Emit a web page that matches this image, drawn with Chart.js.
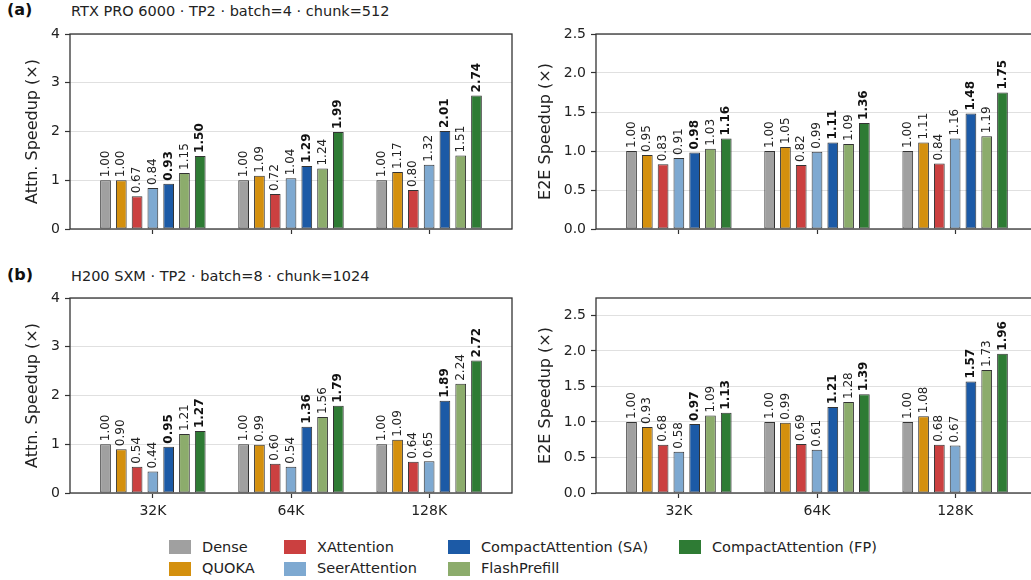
<!DOCTYPE html>
<html>
<head>
<meta charset="utf-8">
<script src="https://cdn.jsdelivr.net/npm/chart.js@4.4.1/dist/chart.umd.min.js"></script>
<style>
    html, body {
        margin: 0;
        padding: 0;
        overflow: hidden;
        background: #fff;
    }

    body {
        width: 1031px;
        height: 580px;
        position: relative;
        font-family: 'DejaVu Sans', sans-serif;
        color: #222;
    }

    canvas {
        position: absolute;
    }

    .tag {
        position: absolute;
        font-weight: bold;
        font-size: 16px;
        line-height: 20px;
        color: #111;
    }

    .sub {
        position: absolute;
        font-size: 14.5px;
        line-height: 17px;
        white-space: nowrap;
    }

    .leg {
        position: absolute;
        height: 17px;
        font-size: 14.5px;
        line-height: 17px;
        white-space: nowrap;
    }

    .leg i {
        position: absolute;
        left: 0;
        top: 1.5px;
        width: 22px;
        height: 14px;
    }

    .leg span {
        position: absolute;
        left: 33px;
        top: 0;
    }
</style>
<title>Speedup</title>
</head>
<body>

<div class="tag" style="left:7px; top:0px;">(a)</div>
<div class="sub" style="left:71px; top:3px;">RTX PRO 6000 · TP2 · batch=4 · chunk=512</div>
<div class="tag" style="left:7px; top:265px;">(b)</div>
<div class="sub" style="left:71px; top:268px;">H200 SXM · TP2 · batch=8 · chunk=1024</div>

<canvas id="rtxAttnChart" width="514" height="224" style="left:0px; top:20px;"></canvas>
<canvas id="rtxE2EChart" width="520" height="224" style="left:520px; top:20px;"></canvas>
<canvas id="h200AttnChart" width="514" height="239" style="left:0px; top:284px;"></canvas>
<canvas id="h200E2EChart" width="520" height="239" style="left:520px; top:284px;"></canvas>

<div id="legend"></div>

<script>
    var methods = ['Dense', 'QUOKA', 'XAttention', 'SeerAttention',
        'CompactAttention (SA)', 'FlashPrefill', 'CompactAttention (FP)'];
    var colors = ['#a0a0a0', '#d4900e', '#cb4040', '#7ea9d1', '#1c5aa6', '#8cac6c', '#2e7b34'];
    var boldMethods = ['CompactAttention (SA)', 'CompactAttention (FP)'];
    var contexts = ['32K', '64K', '128K'];

    var attnTicks = [0, 1, 2, 3, 4];
    var e2eTicks = [0, 0.5, 1.0, 1.5, 2.0, 2.5];

    // one row per method, one value per context length
    var rtxAttn = [
        [1.00, 1.00, 1.00],
        [1.00, 1.09, 1.17],
        [0.67, 0.72, 0.80],
        [0.84, 1.04, 1.32],
        [0.93, 1.29, 2.01],
        [1.15, 1.24, 1.51],
        [1.50, 1.99, 2.74]
    ];
    var rtxE2E = [
        [1.00, 1.00, 1.00],
        [0.95, 1.05, 1.11],
        [0.83, 0.82, 0.84],
        [0.91, 0.99, 1.16],
        [0.98, 1.11, 1.48],
        [1.03, 1.09, 1.19],
        [1.16, 1.36, 1.75]
    ];
    var h200Attn = [
        [1.00, 1.00, 1.00],
        [0.90, 0.99, 1.09],
        [0.54, 0.60, 0.64],
        [0.44, 0.54, 0.65],
        [0.95, 1.36, 1.89],
        [1.21, 1.56, 2.24],
        [1.27, 1.79, 2.72]
    ];
    var h200E2E = [
        [1.00, 1.00, 1.00],
        [0.93, 0.99, 1.08],
        [0.68, 0.69, 0.68],
        [0.58, 0.61, 0.67],
        [0.97, 1.21, 1.57],
        [1.09, 1.28, 1.73],
        [1.13, 1.39, 1.96]
    ];

    var FONT = "'DejaVu Sans', sans-serif";

    // rotated value labels above each bar
    var barLabels = {
        id: 'barLabels',
        afterDatasetsDraw: function (chart) {
            var ctx = chart.ctx;
            chart.data.datasets.forEach(function (ds, i) {
                var meta = chart.getDatasetMeta(i);
                var bold = boldMethods.indexOf(ds.label) >= 0;
                meta.data.forEach(function (bar, j) {
                    ctx.save();
                    ctx.translate(bar.x, bar.y - 3);
                    ctx.rotate(-Math.PI / 2);
                    ctx.font = (bold ? 'bold ' : '') + '12px ' + FONT;
                    ctx.fillStyle = bold ? '#111' : '#222';
                    ctx.textAlign = 'left';
                    ctx.textBaseline = 'middle';
                    ctx.fillText(ds.data[j].y.toFixed(2), 0, 0);
                    ctx.restore();
                });
            });
        }
    };

    // box around the plot area like matplotlib spines
    var frame = {
        id: 'frame',
        afterDatasetsDraw: function (chart) {
            var a = chart.chartArea;
            var ctx = chart.ctx;
            ctx.save();
            ctx.strokeStyle = '#333';
            ctx.lineWidth = 1.3;
            ctx.strokeRect(a.left, a.top, a.right - a.left, a.bottom - a.top);
            ctx.restore();
        }
    };

    function makePanel(id, rows, yMax, yTicks, yTitle, o) {
        var datasets = methods.map(function (m, i) {
            return {
                label: m,
                data: rows[i].map(function (v, j) { return { x: j, y: v }; }),
                backgroundColor: colors[i],
                borderColor: '#333',
                borderWidth: 1,
                borderSkipped: false,
                categoryPercentage: 0.8,
                barPercentage: 0.68
            };
        });

        new Chart(document.getElementById(id), {
            type: 'bar',
            data: { datasets: datasets },
            options: {
                responsive: false,
                animation: false,
                layout: { padding: { top: 14, right: 2, bottom: 0, left: 0 } },
                plugins: {
                    legend: { display: false },
                    tooltip: { enabled: false }
                },
                scales: {
                    x: {
                        type: 'linear',
                        min: -0.6,
                        max: 2.6,
                        offset: false,
                        afterBuildTicks: function (s) {
                            s.ticks = contexts.map(function (c, j) { return { value: j }; });
                        },
                        afterFit: function (s) { s.height = o.xh; },
                        grid: {
                            display: true,
                            drawOnChartArea: false,
                            offset: false,
                            tickLength: 5,
                            tickColor: '#333',
                            tickWidth: 1.2
                        },
                        border: { display: false },
                        ticks: {
                            display: o.showX,
                            autoSkip: false,
                            maxRotation: 0,
                            padding: 5,
                            color: '#222',
                            font: { family: FONT, size: 14 },
                            callback: function (v) { return contexts[v]; }
                        }
                    },
                    y: {
                        min: 0,
                        max: yMax,
                        afterBuildTicks: function (s) {
                            s.ticks = yTicks.map(function (v) { return { value: v }; });
                        },
                        afterFit: function (s) { s.width = o.yw; },
                        grid: {
                            color: '#e0e0e0',
                            lineWidth: 1,
                            tickLength: 5,
                            tickColor: '#333',
                            tickWidth: 1.2
                        },
                        border: { display: false },
                        ticks: {
                            padding: 5,
                            color: '#222',
                            font: { family: FONT, size: 14 },
                            callback: o.fmt
                        },
                        title: {
                            display: true,
                            text: yTitle,
                            color: '#222',
                            font: { family: FONT, size: 16 },
                            padding: { top: o.tp, bottom: 0 }
                        }
                    }
                }
            },
            plugins: [barLabels, frame]
        });
    }

    var intFmt = function (v) { return String(v); };
    var decFmt = function (v) { return v.toFixed(1); };

    makePanel('rtxAttnChart', rtxAttn, 4, attnTicks, 'Attn. Speedup (×)',
        { xh: 15, showX: false, yw: 70, tp: 23, fmt: intFmt });
    makePanel('rtxE2EChart', rtxE2E, 2.5, e2eTicks, 'E2E Speedup (×)',
        { xh: 15, showX: false, yw: 76, tp: 16, fmt: decFmt });
    makePanel('h200AttnChart', h200Attn, 4, attnTicks, 'Attn. Speedup (×)',
        { xh: 30, showX: true, yw: 70, tp: 23, fmt: intFmt });
    makePanel('h200E2EChart', h200E2E, 2.744, e2eTicks, 'E2E Speedup (×)',
        { xh: 30, showX: true, yw: 76, tp: 16, fmt: decFmt });

    // legend: two rows, filled column by column
    var legCols = [169, 284, 448, 679];
    var legRows = [538.5, 560.2];
    var leg = document.getElementById('legend');
    methods.forEach(function (m, i) {
        var d = document.createElement('div');
        d.className = 'leg';
        d.style.left = legCols[Math.floor(i / 2)] + 'px';
        d.style.top = legRows[i % 2] + 'px';
        var sw = document.createElement('i');
        sw.style.background = colors[i];
        var t = document.createElement('span');
        t.textContent = m;
        d.appendChild(sw);
        d.appendChild(t);
        leg.appendChild(d);
    });
</script>
</body>
</html>
